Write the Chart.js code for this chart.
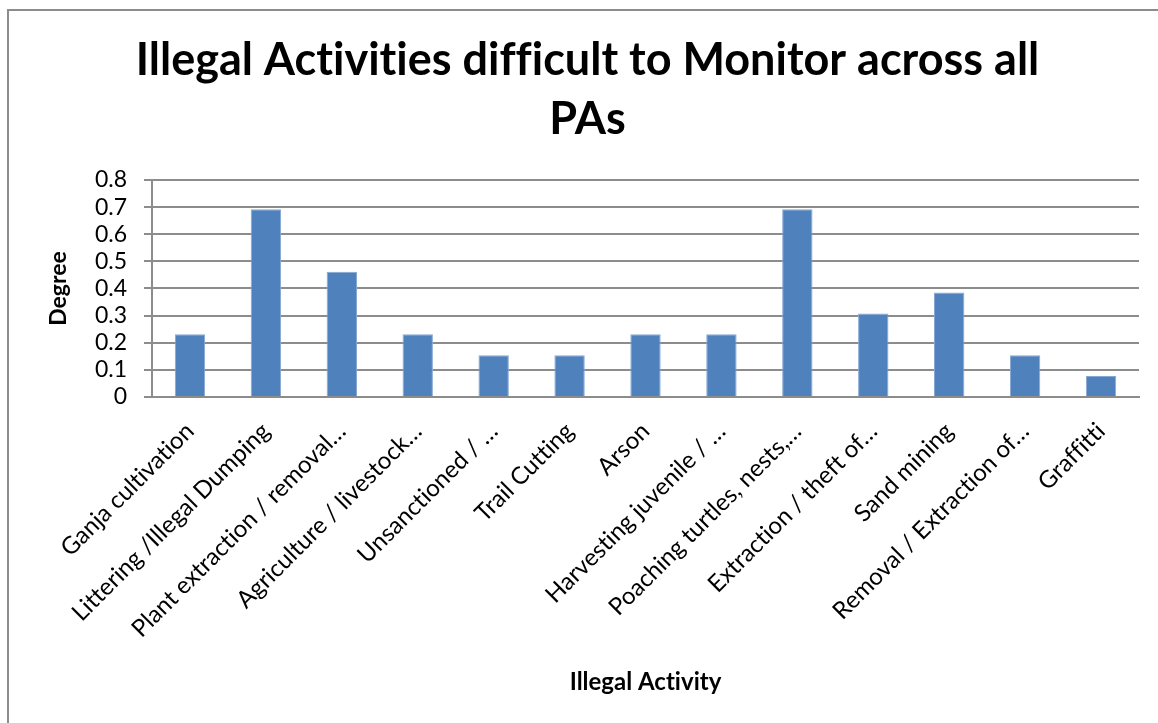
<!DOCTYPE html>
<html>
<head>
<meta charset="utf-8">
<title>Illegal Activities difficult to Monitor across all PAs</title>
<script src="https://cdn.jsdelivr.net/npm/chart.js@4.4.0/dist/chart.umd.min.js"></script>
<style>
  html, body { margin: 0; padding: 0; background: #fff; }
  .wrap { position: relative; width: 1158px; height: 723px; overflow: hidden; }
  .frame {
    position: absolute; left: 7px; top: 9px; right: -10px; bottom: -10px;
    border-left: 2px solid #8c8c8c; border-top: 2px solid #8c8c8c;
    pointer-events: none;
  }
</style>
</head>
<body>
<div class="wrap">
  <canvas id="chart"></canvas>
  <div class="frame"></div>
</div>
<script>
const titleLines = ['Illegal Activities difficult to Monitor across all', 'PAs'];
const activities = [
    'Ganja cultivation',
    'Littering /Illegal Dumping',
    'Plant extraction / removal…',
    'Agriculture / livestock…',
    'Unsanctioned / …',
    'Trail Cutting',
    'Arson',
    'Harvesting juvenile / …',
    'Poaching turtles, nests,…',
    'Extraction / theft of…',
    'Sand mining',
    'Removal / Extraction of…',
    'Graffitti'
];
const degree = [0.231, 0.692, 0.462, 0.231, 0.154, 0.154, 0.231, 0.231, 0.692, 0.308, 0.385, 0.154, 0.077];
const yTickLabels = ['0', '0.1', '0.2', '0.3', '0.4', '0.5', '0.6', '0.7', '0.8'];

(() => {
    const ctx = document.getElementById('chart');
    const gridGrey = '#8c8c8c';

    Chart.defaults.font.family = 'Lato';
    Chart.defaults.color = '#000';

    // plain glyphs, no "ti" ligatures
    const plainText = {
        id: 'plainText',
        beforeDraw(chart) {
            chart.ctx.textRendering = 'optimizeSpeed';
        }
    };

    const config = {
        type: 'bar',
        data: {
            labels: activities,
            datasets: [{
                label: 'Degree',
                data: degree,
                backgroundColor: '#4f81bd',
                borderColor: '#86a8d4',
                borderWidth: 1,
                barPercentage: 0.4,
                categoryPercentage: 1
            }]
        },
        options: {
            responsive: true,
            maintainAspectRatio: false,
            animation: false,
            layout: {
                padding: { left: 36, right: 19, top: 0, bottom: 0 }
            },
            plugins: {
                legend: { display: false },
                tooltip: { enabled: false },
                title: {
                    display: true,
                    text: titleLines,
                    font: { size: 45, weight: 'bold', lineHeight: 1.333 },
                    padding: { top: 30, bottom: 30 }
                }
            },
            scales: {
                x: {
                    grid: { display: false, drawTicks: false },
                    border: { display: true, color: gridGrey, width: 2 },
                    ticks: {
                        font: { size: 24 },
                        minRotation: 45,
                        maxRotation: 45,
                        autoSkip: false,
                        padding: 20
                    },
                    title: {
                        display: true,
                        text: 'Illegal Activity',
                        font: { size: 24, weight: 'bold' },
                        padding: { top: 0, bottom: 26 }
                    },
                    afterFit: (scale) => { scale.height = 326; }
                },
                y: {
                    min: 0,
                    max: 0.8,
                    ticks: {
                        stepSize: 0.1,
                        autoSkip: false,
                        font: { size: 23 },
                        padding: 17,
                        callback: (value, index) => yTickLabels[index]
                    },
                    grid: { color: gridGrey, lineWidth: 2, tickLength: 8 },
                    border: { display: true, color: gridGrey, width: 2 },
                    title: {
                        display: true,
                        text: 'Degree',
                        font: { size: 23, weight: 'bold' },
                        padding: { top: 9, bottom: 0 }
                    },
                    afterFit: (scale) => { scale.width = 116; }
                }
            }
        },
        plugins: [plainText]
    };

    const chart = new Chart(ctx, config);
})();
</script>
</body>
</html>
